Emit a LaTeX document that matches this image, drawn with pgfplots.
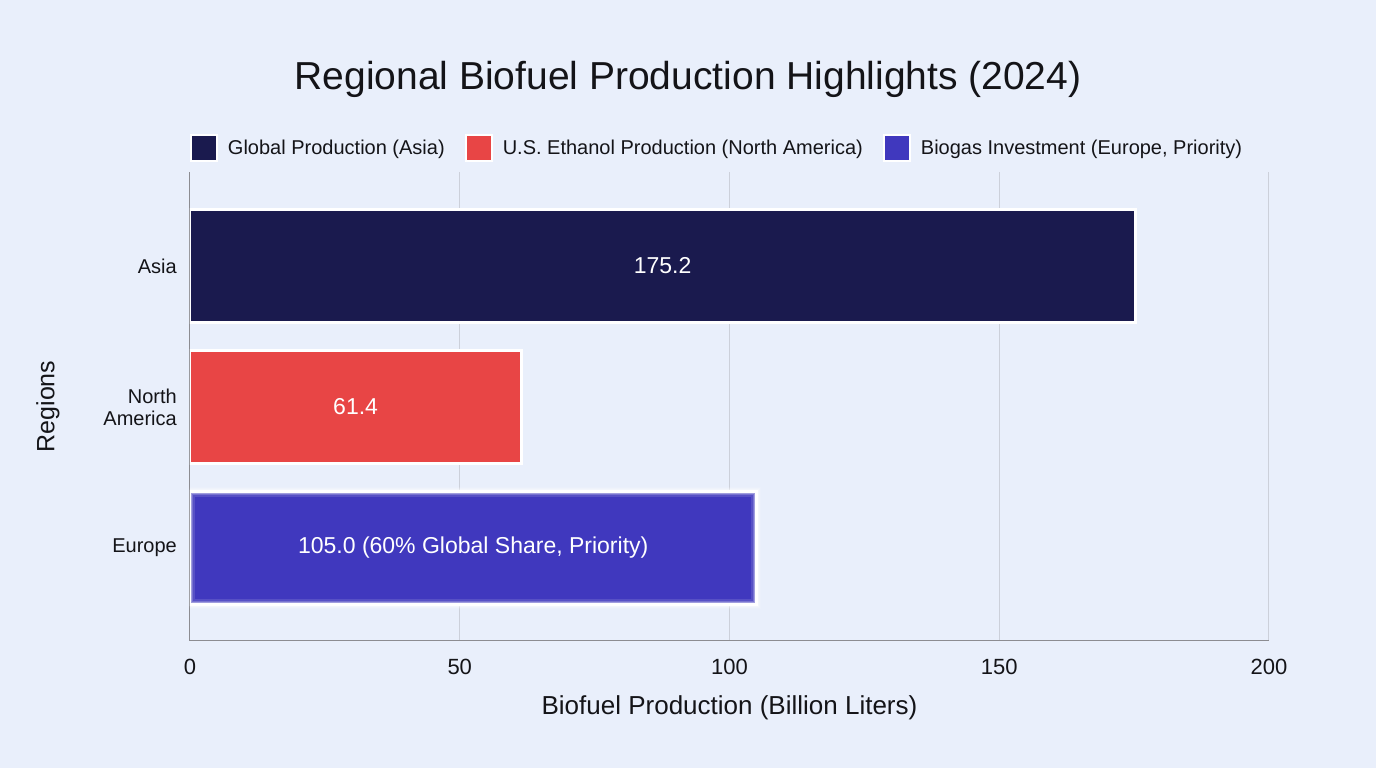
\documentclass[border=0pt]{standalone}
\usepackage{fontspec}
\setmainfont{Liberation Sans}
\usepackage{pgfplots}
\pgfplotsset{compat=1.18}

\definecolor{bg}{RGB}{233,239,251}
\definecolor{ink}{RGB}{20,20,24}
\definecolor{navybar}{RGB}{26,26,78}
\definecolor{redbar}{RGB}{232,69,69}
\definecolor{bluebar}{RGB}{64,56,190}
\definecolor{gridc}{RGB}{204,208,218}
\definecolor{axisc}{RGB}{140,140,145}

\begin{document}
\begin{tikzpicture}
\fill[bg] (0,0) rectangle (1376pt,768pt);
\useasboundingbox (0,0) rectangle (1376pt,768pt);

\node[font=\fontsize{39}{46}\selectfont, text=ink] at (688pt,689pt)
  {Regional Biofuel Production Highlights (2024)};

\begin{axis}[
  at={(190pt,127pt)}, anchor=south west,
  scale only axis, width=1079pt, height=469pt,
  xmin=0, xmax=200, ymin=-0.66, ymax=2.667,
  xtick={0,50,100,150,200},
  ytick={0,1,2},
  yticklabels={Europe,{North\\America},Asia},
  major tick length=0pt,
  /pgf/number format/assume math mode=true,
  axis x line*=bottom, axis y line*=left,
  axis line style={draw=axisc, line width=1pt, -},
  xmajorgrids, grid style={draw=gridc, line width=1pt},
  tick label style={text=ink},
  xticklabel style={font=\fontsize{22}{26}\selectfont, anchor=north, inner sep=0pt, yshift=-18pt},
  yticklabel style={font=\fontsize{20}{22}\selectfont, anchor=east, align=right, inner sep=0pt, xshift=-13pt},
  xlabel={Biofuel Production (Billion Liters)},
  ylabel={Regions},
  every axis x label/.style={at={(axis description cs:0.5,0)}, anchor=center, yshift=-67pt, font=\fontsize{26}{30}\selectfont, text=ink},
  every axis y label/.style={at={(axis description cs:0,0.5)}, anchor=center, xshift=-142pt, rotate=90, font=\fontsize{25}{30}\selectfont, text=ink},
  legend style={at={(axis description cs:0,1)}, anchor=south west, yshift=10pt,
    draw=none, fill=none, inner sep=0pt, outer sep=0pt,
    font=\fontsize{20}{24}\selectfont, text=ink,
    nodes={inner sep=0pt},
    /tikz/every odd column/.append style={column sep=10pt},
    /tikz/every even column/.append style={column sep=20pt}},
  legend columns=-1,
  legend cell align=left,
  legend image code/.code={\draw[#1, line width=2pt] (0pt,-13pt) rectangle (26pt,13pt);},
]

% Bars: one series per region
\addplot[xbar, bar shift=0pt, bar width=0.8, fill=navybar, draw=white, line width=3pt]
  coordinates {(175.2,2)};
\addlegendentry{Global Production (Asia)}

\addplot[xbar, bar shift=0pt, bar width=0.8, fill=redbar, draw=white, line width=3pt]
  coordinates {(61.4,1)};
\addlegendentry{U.S. Ethanol Production (North America)}

\addplot[xbar, bar shift=0pt, bar width=0.8, fill=bluebar, draw=white, line width=3pt]
  coordinates {(105.0,0)};
\addlegendentry{Biogas Investment (Europe, Priority)}

% Soft halo round the priority bar
\addplot[xbar, bar shift=0pt, bar width=0.8, fill=none, draw=white, line width=10pt, opacity=0.12, forget plot]
  coordinates {(105.0,0)};
\addplot[xbar, bar shift=0pt, bar width=0.8, fill=none, draw=white, line width=7pt, opacity=0.2, forget plot]
  coordinates {(105.0,0)};
\addplot[xbar, bar shift=0pt, bar width=0.8, fill=none, draw=white, line width=5pt, opacity=0.3, forget plot]
  coordinates {(105.0,0)};

% Value labels, centred in each bar
\addplot[draw=none, mark=none, forget plot,
  x filter/.expression={x/2},
  nodes near coords, point meta=explicit symbolic,
  every node near coord/.append style={anchor=center, text=white, font=\fontsize{23}{26}\selectfont}]
  coordinates {(175.2,2) [175.2] (61.4,1) [61.4] (105.0,0) [105.0 (60\% Global Share, Priority)]};
\end{axis}
\end{tikzpicture}
\end{document}
